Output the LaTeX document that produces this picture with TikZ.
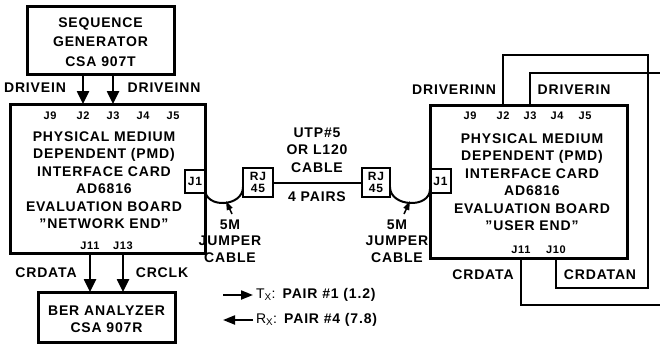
\documentclass[tikz,border=0pt]{standalone}
\usepackage{fontspec}
\setmainfont{Liberation Sans}[LetterSpace=6]
\usetikzlibrary{arrows.meta}
\begin{document}
\begin{tikzpicture}[x=1pt,y=-1pt,
  every node/.style={font=\bfseries\fontsize{14}{17.5}\selectfont, inner sep=0pt, outer sep=0pt, align=center},
  bigbox/.style={draw, line width=3pt},
  smallbox/.style={draw, line width=2pt, font=\bfseries\fontsize{12}{12.5}\selectfont},
  jlab/.style={font=\bfseries\fontsize{11}{12}\selectfont},
  bigarrow/.style={line width=2.5pt, -{Triangle[length=13pt,width=12pt]}},
  thinarrow/.style={line width=1.5pt, -{Triangle[length=9pt,width=6pt]}},
  legarrow/.style={line width=2pt, -{Triangle[length=12pt,width=9pt]}},
  wire/.style={line width=2.2pt},
  cable/.style={line width=2pt}]
\useasboundingbox (0,0) rectangle (660,343);
\fill[white] (0,0) rectangle (660,343);

% ---------- left side ----------
\node[bigbox, minimum width=147pt, minimum height=68pt] (gen) at (100.5,40) {};
\node[font=\bfseries\fontsize{14}{19.5}\selectfont] (gent) at (100.5,42) {SEQUENCE\\GENERATOR\\CSA 907T};

\node[bigbox, minimum width=195pt, minimum height=149pt] (pmdL) at (107.5,178.5) {};
\node (pmdLt) at (104,180) {PHYSICAL MEDIUM\\DEPENDENT (PMD)\\INTERFACE CARD\\AD6816\\EVALUATION BOARD\\"NETWORK END"};
\node[jlab] (jL9) at (50,116) {J9};
\node[jlab] (jL2) at (83,116) {J2};
\node[jlab] (jL3) at (113,116) {J3};
\node[jlab] (jL4) at (143,116) {J4};
\node[jlab] (jL5) at (173,116) {J5};
\node[jlab] (jL11) at (90,246) {J11};
\node[jlab] (jL13) at (123,246) {J13};

\draw[bigarrow] (gen.south -| jL2) -- (pmdL.north -| jL2);
\draw[bigarrow] (gen.south -| jL3) -- (pmdL.north -| jL3);
\node (drivein) at (35,88) {DRIVEIN};
\node (driveinn) at (164,88) {DRIVEINN};

\node[bigbox, minimum width=137pt, minimum height=50pt] (ber) at (106.5,317) {};
\node (bert) at (106.5,319) {BER ANALYZER\\CSA 907R};
\draw[bigarrow] (pmdL.south -| jL11) -- (ber.north -| jL11);
\draw[bigarrow] (pmdL.south -| jL13) -- (ber.north -| jL13);
\node (crdataL) at (46,273) {CRDATA};
\node (crclk) at (162,273) {CRCLK};

% ---------- cable ----------
\node[smallbox, minimum width=20pt, minimum height=23pt] (J1L) at (195,181.5) {J1};
\node[smallbox, minimum width=30pt, minimum height=29pt] (RJL) at (258,182.5) {RJ\\45};
\node[smallbox, minimum width=28pt, minimum height=29pt] (RJR) at (376,182.5) {RJ\\45};
\node[smallbox, minimum width=21pt, minimum height=24pt] (J1R) at (440.5,181) {J1};
\draw[cable] (RJL.east) -- (RJR.west);
\coordinate (aL1) at (205,189);
\coordinate (aL2) at (243,187);
\coordinate (aR1) at (390,187);
\coordinate (aR2) at (430,189);
\draw[cable] (aL1) .. controls +(0,20) and +(0,20) .. (aL2);
\draw[cable] (aR1) .. controls +(0,20) and +(0,20) .. (aR2);
\node (utp) at (317,150) {UTP\#5\\OR L120\\CABLE};
\node (pairs) at (317,197) {4 PAIRS};

\node[font=\bfseries\fontsize{14}{16.5}\selectfont] (jumpL) at (230,241) {5M\\JUMPER\\CABLE};
\node[font=\bfseries\fontsize{14}{16.5}\selectfont] (jumpR) at (397,241) {5M\\JUMPER\\CABLE};
\coordinate (tipL) at (226,201);
\coordinate (tipR) at (410,201);
\coordinate (tailL) at (232,214);
\coordinate (tailR) at (404,214);
\draw[thinarrow] (tailL) -- (tipL);
\draw[thinarrow] (tailR) -- (tipR);

% ---------- right side ----------
\node[bigbox, minimum width=197pt, minimum height=153pt] (pmdR) at (528.5,181.5) {};
\node (pmdRt) at (532,182) {PHYSICAL MEDIUM\\DEPENDENT (PMD)\\INTERFACE CARD\\AD6816\\EVALUATION BOARD\\"USER END"};
\node[jlab] (jR9) at (470,116) {J9};
\node[jlab] (jR2) at (503,116) {J2};
\node[jlab] (jR3) at (530,116) {J3};
\node[jlab] (jR4) at (557,116) {J4};
\node[jlab] (jR5) at (585,116) {J5};
\node[jlab] (jR11) at (521,250) {J11};
\node[jlab] (jR10) at (556,250) {J10};

\coordinate (c1) at (503,55);
\coordinate (c2) at (648,55);
\coordinate (c3) at (648,288);
\coordinate (c4) at (556,288);
\draw[wire] (pmdR.north -| jR2) -- (c1) -- (c2) -- (c3) -- (c4) -- (pmdR.south -| jR10);
\coordinate (d1) at (530,73);
\coordinate (d2) at (660,73);
\draw[wire] (pmdR.north -| jR3) -- (d1) -- (d2);
\coordinate (e1) at (521,305);
\coordinate (e2) at (660,305);
\draw[wire] (pmdR.south -| jR11) -- (e1) -- (e2);

\node (driverinn) at (454,90) {DRIVERINN};
\node (driverin) at (574,90) {DRIVERIN};
\node (crdataR) at (483,275) {CRDATA};
\node (crdatan) at (600,275) {CRDATAN};

% ---------- legend ----------
\coordinate (l1a) at (223,295);
\coordinate (l1b) at (253,295);
\coordinate (l2a) at (253,320);
\coordinate (l2b) at (223,320);
\draw[legarrow] (l1a) -- (l1b);
\draw[legarrow] (l2a) -- (l2b);
\node[anchor=west, font=\fontsize{14}{16}\selectfont] (tx) at (256,295) {T\textsubscript{X}: \textbf{PAIR \#1 (1.2)}};
\node[anchor=west, font=\fontsize{14}{16}\selectfont] (rx) at (256,320) {R\textsubscript{X}: \textbf{PAIR \#4 (7.8)}};
\end{tikzpicture}
\end{document}
